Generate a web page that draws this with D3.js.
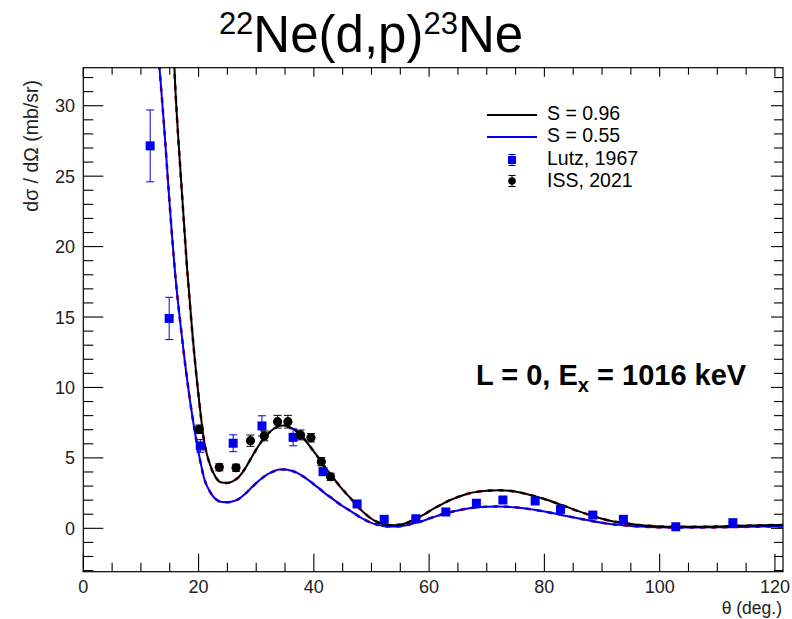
<!DOCTYPE html>
<html>
<head>
<meta charset="utf-8">
<script src="https://cdn.jsdelivr.net/npm/d3@7"></script>
<style>
  html, body { margin: 0; padding: 0; background: #fff; }
  svg { display: block; font-family: "Liberation Sans", Arial, Helvetica, sans-serif; }
</style>
</head>
<body>
<svg id="chart" width="792" height="619"></svg>
<script>
// Angular distribution, 22Ne(d,p)23Ne, L = 0 state at 1016 keV

// DWBA curve angles (deg.)
const theta = [10, 12, 13, 14, 15, 16, 17, 18, 19, 20, 21, 22, 23, 24, 25, 26, 27, 28, 29, 30,
  31, 32, 33, 34, 35, 36, 37, 38, 39, 40, 41, 42, 43, 44, 45, 46, 47, 48, 49, 50,
  51, 52, 53, 54, 55, 56, 57, 58, 59, 60, 61, 62, 63, 64, 65, 66, 67, 68, 69, 70,
  72, 74, 76, 78, 80, 82, 84, 86, 88, 90, 92, 94, 96, 98, 100, 103, 106, 110, 114, 118, 122];

// DWBA scaled with S = 0.96 (mb/sr)
const curveS096 = [90, 68, 59, 50, 40, 31, 24.5, 18.5, 13.5, 9.4, 6.1, 4.5, 3.6, 3.25, 3.22, 3.35, 3.65, 4.2, 4.9, 5.6,
  6.2, 6.7, 7.05, 7.28, 7.3, 7.15, 6.9, 6.5, 6.0, 5.45, 4.9, 4.3, 3.8, 3.25, 2.75, 2.3, 1.85, 1.38, 1.0, 0.68,
  0.45, 0.3, 0.23, 0.22, 0.27, 0.36, 0.55, 0.75, 0.95, 1.2, 1.45, 1.67, 1.88, 2.06, 2.22, 2.37, 2.49, 2.57, 2.63, 2.67,
  2.7, 2.66, 2.53, 2.32, 2.08, 1.8, 1.5, 1.2, 0.92, 0.68, 0.48, 0.36, 0.25, 0.18, 0.13, 0.11, 0.11, 0.13, 0.18, 0.22, 0.24];

// DWBA scaled with S = 0.55 (mb/sr)
const curveS055 = [51.6, 38.96, 33.8, 28.65, 22.9, 17.8, 14.0, 10.6, 7.74, 5.39, 3.5, 2.58, 2.06, 1.86, 1.85, 1.92, 2.09, 2.41, 2.81, 3.21,
  3.55, 3.84, 4.04, 4.17, 4.18, 4.10, 3.95, 3.72, 3.44, 3.12, 2.81, 2.46, 2.18, 1.86, 1.58, 1.32, 1.06, 0.79, 0.57, 0.39,
  0.26, 0.17, 0.13, 0.13, 0.15, 0.21, 0.32, 0.43, 0.54, 0.69, 0.83, 0.96, 1.08, 1.18, 1.27, 1.36, 1.43, 1.47, 1.51, 1.53,
  1.55, 1.52, 1.45, 1.33, 1.19, 1.03, 0.86, 0.69, 0.53, 0.39, 0.28, 0.21, 0.14, 0.10, 0.07, 0.06, 0.06, 0.07, 0.10, 0.13, 0.14];

// Lutz, 1967
const lutzTheta = [11.6, 14.9, 20.3, 26.0, 31.0, 36.4, 41.6, 47.5, 52.2, 57.7, 62.9, 68.2, 72.8, 78.4, 82.8, 88.4, 93.7, 102.8, 112.7];
const lutzXs    = [27.15, 14.9, 5.85, 6.04, 7.27, 6.46, 4.02, 1.73, 0.64, 0.68, 1.16, 1.78, 2.01, 1.94, 1.35, 0.94, 0.64, 0.11, 0.40];
const lutzErr   = [2.55, 1.5, 0.45, 0.6, 0.72, 0.6, 0.25, 0.15, 0.1, 0.1, 0.12, 0.15, 0.15, 0.15, 0.12, 0.1, 0.08, 0.05, 0.06];

// ISS, 2021
const issTheta = [20.1, 23.6, 26.5, 29.0, 31.4, 33.7, 35.5, 37.7, 39.5, 41.3, 42.9];
const issXs    = [7.03, 4.33, 4.30, 6.22, 6.56, 7.57, 7.57, 6.63, 6.43, 4.73, 3.66];
const issErr   = [0.3, 0.25, 0.25, 0.4, 0.35, 0.45, 0.45, 0.35, 0.3, 0.3, 0.25];

// Axis ticks
const xMajor = [0, 20, 40, 60, 80, 100, 120];
const yMajor = [0, 5, 10, 15, 20, 25, 30];

const svg = d3.select("#chart");
const frame = { left: 83.3, right: 783, top: 67.7, bottom: 571.7 };

const x = d3.scaleLinear().domain([0, 121.4]).range([frame.left, frame.right]);
const y = d3.scaleLinear().domain([-3.08, 32.7]).range([frame.bottom, frame.top]);

const BLUE = "#0000ee";

// Title
const title = svg.append("text")
  .attr("x", 371).attr("y", 52)
  .attr("text-anchor", "middle")
  .style("font-size", "51px")
  .attr("fill", "#000");
title.append("tspan").text("22").style("font-size", "31px").attr("dy", "-18");
title.append("tspan").text("Ne(d,p)").attr("dy", "18");
title.append("tspan").text("23").style("font-size", "31px").attr("dy", "-18");
title.append("tspan").text("Ne").attr("dy", "18");

// Clip region for the curves
svg.append("defs").append("clipPath").attr("id", "plotclip")
  .append("rect")
  .attr("x", frame.left).attr("y", frame.top)
  .attr("width", frame.right - frame.left).attr("height", frame.bottom - frame.top);

const plot = svg.append("g").attr("clip-path", "url(#plotclip)");

const pts = (xs, ys) => xs.map((d, i) => [d, ys[i]]);
const line = d3.line().x(d => x(d[0])).y(d => y(d[1])).curve(d3.curveMonotoneX);

// red dashed companion curves underneath
[curveS096, curveS055].forEach(vals => {
  plot.append("path").datum(pts(theta, vals))
    .attr("d", line).attr("fill", "none")
    .attr("stroke", "#b00000").attr("stroke-width", 2.6)
    .attr("stroke-dasharray", "5,6");
});
plot.append("path").datum(pts(theta, curveS055))
  .attr("d", line).attr("fill", "none")
  .attr("stroke", BLUE).attr("stroke-width", 2);
plot.append("path").datum(pts(theta, curveS096))
  .attr("d", line).attr("fill", "none")
  .attr("stroke", "#000").attr("stroke-width", 2);

// Error bars + markers
function errorBars(g, xs, ys, es, color, cap) {
  xs.forEach((t, i) => {
    const cx = x(t), y1 = y(ys[i] + es[i]), y2 = y(ys[i] - es[i]);
    g.append("line").attr("x1", cx).attr("x2", cx).attr("y1", y1).attr("y2", y2)
      .attr("stroke", color).attr("stroke-width", 1);
    [y1, y2].forEach(yy => g.append("line")
      .attr("x1", cx - cap).attr("x2", cx + cap).attr("y1", yy).attr("y2", yy)
      .attr("stroke", color).attr("stroke-width", 1));
  });
}
const gLutz = plot.append("g");
errorBars(gLutz, lutzTheta, lutzXs, lutzErr, BLUE, 4);
lutzTheta.forEach((t, i) => {
  gLutz.append("rect")
    .attr("x", x(t) - 4.5).attr("y", y(lutzXs[i]) - 4.5)
    .attr("width", 9).attr("height", 9).attr("fill", BLUE);
});
const gIss = plot.append("g");
errorBars(gIss, issTheta, issXs, issErr, "#000", 4);
issTheta.forEach((t, i) => {
  gIss.append("circle").attr("cx", x(t)).attr("cy", y(issXs[i])).attr("r", 4.6).attr("fill", "#000");
});

// Frame
svg.append("rect")
  .attr("x", frame.left).attr("y", frame.top)
  .attr("width", frame.right - frame.left).attr("height", frame.bottom - frame.top)
  .attr("fill", "none").attr("stroke", "#000").attr("stroke-width", 1.2);

// Ticks (drawn inside the frame, ROOT style)
const ticks = svg.append("g").attr("stroke", "#000").attr("stroke-width", 1.1);
d3.range(0, 121, 5).forEach(v => {
  const major = v % 20 === 0;
  const px = x(v);
  ticks.append("line").attr("x1", px).attr("x2", px)
    .attr("y1", frame.bottom).attr("y2", frame.bottom - (major ? 18 : 9));
  ticks.append("line").attr("x1", px).attr("x2", px)
    .attr("y1", frame.top).attr("y2", frame.top + (major ? 9 : 7));
});
d3.range(-3, 33, 1).forEach(v => {
  const major = v % 5 === 0;
  const py = y(v);
  ticks.append("line").attr("x1", frame.left).attr("x2", frame.left + (major ? 20 : 10))
    .attr("y1", py).attr("y2", py);
  ticks.append("line").attr("x1", frame.right).attr("x2", frame.right - (major ? 12 : 9))
    .attr("y1", py).attr("y2", py);
});

// Tick labels
const labels = svg.append("g").attr("fill", "#222").style("font-size", "18px");
xMajor.forEach(v => {
  labels.append("text").attr("x", x(v)).attr("y", 593).attr("text-anchor", "middle").text(v);
});
yMajor.forEach(v => {
  labels.append("text").attr("x", 75).attr("y", y(v) + 6.5).attr("text-anchor", "end").text(v);
});

// Axis titles
svg.append("text")
  .attr("x", 782).attr("y", 614).attr("text-anchor", "end")
  .style("font-size", "17.5px").attr("fill", "#222")
  .text("θ (deg.)");
svg.append("text")
  .attr("transform", "translate(38,80) rotate(-90)")
  .attr("text-anchor", "end")
  .style("font-size", "19.5px").attr("fill", "#222")
  .text("dσ / dΩ (mb/sr)");

// Legend
const leg = svg.append("g").style("font-size", "19.5px").attr("fill", "#000");
leg.append("line").attr("x1", 487).attr("x2", 537).attr("y1", 115).attr("y2", 115)
  .attr("stroke", "#000").attr("stroke-width", 2);
leg.append("line").attr("x1", 487).attr("x2", 537).attr("y1", 137).attr("y2", 137)
  .attr("stroke", BLUE).attr("stroke-width", 2);
leg.append("text").attr("x", 547).attr("y", 120).text("S = 0.96");
leg.append("text").attr("x", 547).attr("y", 142).text("S = 0.55");
leg.append("text").attr("x", 547).attr("y", 165).text("Lutz, 1967");
leg.append("text").attr("x", 547).attr("y", 187).text("ISS, 2021");
// legend markers
[[160, BLUE, "rect"], [181, "#000", "circle"]].forEach(([cy, c, shape]) => {
  const cx = 512;
  leg.append("line").attr("x1", cx).attr("x2", cx).attr("y1", cy - 5.5).attr("y2", cy + 5.5).attr("stroke", c);
  [cy - 5.5, cy + 5.5].forEach(yy => leg.append("line")
    .attr("x1", cx - 3.5).attr("x2", cx + 3.5).attr("y1", yy).attr("y2", yy).attr("stroke", c));
  if (shape === "rect") {
    leg.append("rect").attr("x", cx - 4).attr("y", cy - 4).attr("width", 8).attr("height", 8).attr("fill", c);
  } else {
    leg.append("circle").attr("cx", cx).attr("cy", cy).attr("r", 3.8).attr("fill", c);
  }
});

// State label
const st = svg.append("text")
  .attr("x", 476).attr("y", 385)
  .style("font-size", "29px").style("font-weight", "bold").attr("fill", "#000");
st.append("tspan").text("L = 0, E");
st.append("tspan").text("x").style("font-size", "20px").attr("dy", "7");
st.append("tspan").text(" = 1016 keV").attr("dy", "-7");
</script>
</body>
</html>
